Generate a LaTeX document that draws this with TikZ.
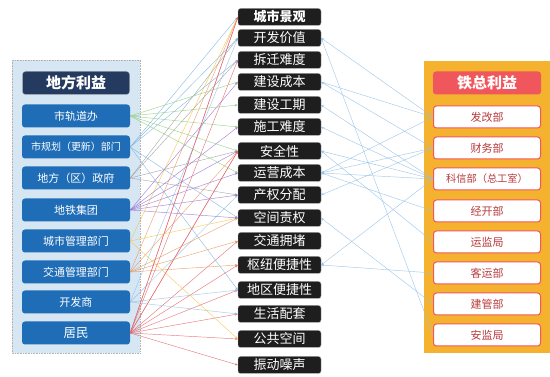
\documentclass[tikz,border=0pt]{standalone}
\usepackage{fontspec}
\newfontfamily\cjk{Noto Sans CJK SC}
\usetikzlibrary{arrows.meta}
\definecolor{panelL}{HTML}{D6E6F3}
\definecolor{boxL}{HTML}{1F6DB6}
\definecolor{titleL}{HTML}{243A5E}
\definecolor{panelR}{HTML}{F4B22F}
\definecolor{titleR}{HTML}{F0575C}
\definecolor{textR}{HTML}{B8393C}
\definecolor{boxC}{HTML}{1E1E1E}
\definecolor{lgreen}{HTML}{8FCF7A}
\definecolor{lblue}{HTML}{7FB3E0}
\definecolor{lgray}{HTML}{A0A0A0}
\definecolor{lpurple}{HTML}{9B6FD0}
\definecolor{lyellow}{HTML}{F5C542}
\definecolor{lorange}{HTML}{E8894A}
\definecolor{lsky}{HTML}{93C0E8}
\definecolor{lred}{HTML}{E0474C}
\tikzset{
  cbox/.style={fill=boxC, draw=gray!60, line width=0.3pt, rounded corners=2.5pt, minimum width=83pt, minimum height=17pt, inner sep=0pt, text=white, font=\cjk\fontsize{13}{13}\selectfont},
  lbox/.style={fill=boxL, rounded corners=3pt, minimum width=108pt, minimum height=23pt, inner sep=0pt, text=white, font=\cjk\fontsize{11}{11}\selectfont},
  ltitle/.style={fill=titleL, draw=gray!70, line width=0.3pt, rounded corners=3pt, minimum width=107pt, minimum height=23pt, inner sep=0pt, text=white, font=\cjk\bfseries\fontsize{15}{15}\selectfont},
  rbox/.style={fill=white, draw=titleR, line width=1pt, rounded corners=3pt, minimum width=107pt, minimum height=22pt, inner sep=0pt, text=textR, font=\cjk\fontsize{11}{11}\selectfont},
  rtitle/.style={fill=titleR, rounded corners=3pt, minimum width=108pt, minimum height=23pt, inner sep=0pt, text=white, font=\cjk\bfseries\fontsize{15}{15}\selectfont},
  con/.style={line width=0.45pt, draw opacity=0.85, -{Stealth[length=3pt,width=2.4pt]}},
}
\begin{document}
\begin{tikzpicture}[x=1pt,y=-1pt]
\useasboundingbox (0,0) rectangle (550,377);
% panels
\fill[panelL] (12,60) rectangle (140,353);
\draw[gray!60, densely dotted, line width=0.6pt] (12,60) rectangle (140,353);
\fill[panelR] (424,61) rectangle (550,353);
% center column
\node[cbox] (c1) at (279.5,17) {\bfseries 城市景观};
\node[cbox] (c2) at (279.5,38) {开发价值};
\node[cbox] (c3) at (279.5,60) {拆迁难度};
\node[cbox] (c4) at (279.5,82) {建设成本};
\node[cbox] (c5) at (279.5,105) {建设工期};
\node[cbox] (c6) at (279.5,127) {施工难度};
\node[cbox] (c7) at (279.5,151) {安全性};
\node[cbox] (c8) at (279.5,173) {运营成本};
\node[cbox] (c9) at (279.5,195) {产权分配};
\node[cbox] (c10) at (279.5,218) {空间责权};
\node[cbox] (c11) at (279.5,241) {交通拥堵};
\node[cbox] (c12) at (279.5,265) {枢纽便捷性};
\node[cbox] (c13) at (279.5,290) {地区便捷性};
\node[cbox] (c14) at (279.5,314) {生活配套};
\node[cbox] (c15) at (279.5,339) {公共空间};
\node[cbox] (c16) at (279.5,365) {振动噪声};
% left
\node[ltitle] (lt) at (76,83) {地方利益};
\node[lbox] (l1) at (76,116) {市轨道办};
\node[lbox] (l2) at (76,147) {\fontsize{10}{10}\selectfont 市规划（更新）部门};
\node[lbox] (l3) at (76,178) {地方（区）政府};
\node[lbox] (l4) at (76,210) {地铁集团};
\node[lbox] (l5) at (76,241) {城市管理部门};
\node[lbox] (l6) at (76,272) {交通管理部门};
\node[lbox] (l7) at (76,302) {开发商};
\node[lbox] (l8) at (76,333) {\fontsize{12.5}{12.5}\selectfont 居民};
% right
\node[rtitle] (rt) at (487,83) {铁总利益};
\node[rbox] (r1) at (487,117) {发改部};
\node[rbox] (r2) at (487,148) {财务部};
\node[rbox] (r3) at (487,179) {\fontsize{10.2}{10.2}\selectfont 科信部（总工室）};
\node[rbox] (r4) at (487,211) {经开部};
\node[rbox] (r5) at (487,242) {运监局};
\node[rbox] (r6) at (487,273) {客运部};
\node[rbox] (r7) at (487,304) {建管部};
\node[rbox] (r8) at (487,335) {安监局};
% left connectors
\foreach \t in {14,15,16,13,12,11,7,3,1} \draw[con, lred!85] (l8.east) -- (c\t.west);
\foreach \t in {2,9,13,14} \draw[con, lsky] (l7.east) -- (c\t.west);
\foreach \t in {1,7,11,12,10} \draw[con, lorange!90] (l6.east) -- (c\t.west);
\foreach \t in {1,15,10} \draw[con, lyellow] (l5.east) -- (c\t.west);
\foreach \t in {2,3,7,9} \draw[con, lgray] (l3.east) -- (c\t.west);
\foreach \t in {1,2,3,10,13} \draw[con, lblue] (l2.east) -- (c\t.west);
\foreach \t in {4,6,7,8,9,10} \draw[con, lpurple] (l4.east) -- (c\t.west);
\foreach \t in {4,5,6,7,8} \draw[con, lgreen] (l1.east) -- (c\t.west);
\draw[con, lred!85] (l8.east) -- (c1.west);
\draw[con, lred!85] (l8.east) -- (c7.west);
% right connectors
\foreach \s/\t in {1/2,1/4,1/8,2/4,2/9,2/8,3/5,3/6,3/7,3/8,3/12,4/8,5/7,6/12,7/10,8/2}
  \draw[con, lsky] (r\s.west) -- (c\t.east);
\end{tikzpicture}
\end{document}
